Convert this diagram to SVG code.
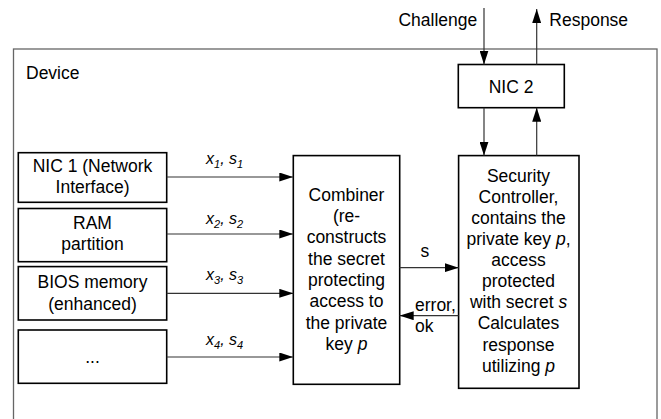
<svg xmlns="http://www.w3.org/2000/svg" width="661" height="419" viewBox="0 0 661 419">
  <defs>
    <marker id="arrow" markerUnits="userSpaceOnUse" markerWidth="14" markerHeight="9" refX="14" refY="4.5" orient="auto">
      <path d="M0,0 L14,4.5 L0,9 Z" fill="#000"/>
    </marker>
    <style>
      text { font-family: "Liberation Sans", Arial, sans-serif; font-size: 17.5px; fill: #000; }
      .c { text-anchor: middle; }
      .lbl { font-size: 16px; font-style: italic; }
      .sub { font-size: 11px; }
      .box { fill: #fff; stroke: #000; stroke-width: 1.6; }
      .frame { fill: none; stroke: #666; stroke-width: 1.3; }
      .conn line { stroke: #333; stroke-width: 1.2; marker-end: url(#arrow); }
    </style>
  </defs>

  <rect width="661" height="419" fill="#fff"/>

  <!-- device enclosure -->
  <g id="device">
    <rect class="frame" x="13.5" y="49" width="643.5" height="380"/>
    <text x="26" y="79.3">Device</text>
  </g>

  <!-- external labels -->
  <text x="477.3" y="26" text-anchor="end">Challenge</text>
  <text x="549.3" y="26">Response</text>

  <g id="nic2">
    <rect class="box" x="458.3" y="64.5" width="106" height="43.2"/>
    <text class="c" x="511" y="93.3">NIC 2</text>
  </g>

  <g id="nic1">
    <rect class="box" x="18.3" y="152.7" width="148.4" height="49.6"/>
    <text class="c" x="92.5" y="171.7">NIC 1 (Network</text>
    <text class="c" x="92.5" y="193.3">Interface)</text>
  </g>

  <g id="ram">
    <rect class="box" x="18.3" y="208.5" width="148.4" height="53.2"/>
    <text class="c" x="92.5" y="228.5">RAM</text>
    <text class="c" x="92.5" y="250">partition</text>
  </g>

  <g id="bios">
    <rect class="box" x="18.3" y="266.6" width="148.4" height="53.4"/>
    <text class="c" x="92.5" y="288">BIOS memory</text>
    <text class="c" x="92.5" y="309.5">(enhanced)</text>
  </g>

  <g id="more">
    <rect class="box" x="18.3" y="330" width="148.4" height="53.3"/>
    <text class="c" x="92.5" y="362.7">...</text>
  </g>

  <g id="combiner">
    <rect class="box" x="293.3" y="155.6" width="106.4" height="228.7"/>
    <text class="c" x="346.5" y="200.7">Combiner</text>
    <text class="c" x="346.5" y="222">(re-</text>
    <text class="c" x="346.5" y="243.3">constructs</text>
    <text class="c" x="346.5" y="264.6">the secret</text>
    <text class="c" x="346.5" y="286">protecting</text>
    <text class="c" x="346.5" y="307.3">access to</text>
    <text class="c" x="346.5" y="328.6">the private</text>
    <text class="c" x="346.5" y="350">key <tspan font-style="italic">p</tspan></text>
  </g>

  <g id="security-controller">
    <rect class="box" x="458.6" y="155.6" width="120.4" height="232.7"/>
    <text class="c" x="518.5" y="181.7">Security</text>
    <text class="c" x="518.5" y="202.8">Controller,</text>
    <text class="c" x="518.5" y="223.9">contains the</text>
    <text class="c" x="518.5" y="245">private key <tspan font-style="italic">p</tspan>,</text>
    <text class="c" x="518.5" y="266.1">access</text>
    <text class="c" x="518.5" y="287.2">protected</text>
    <text class="c" x="518.5" y="308.3">with secret <tspan font-style="italic">s</tspan></text>
    <text class="c" x="518.5" y="329.4">Calculates</text>
    <text class="c" x="518.5" y="350.5">response</text>
    <text class="c" x="518.5" y="371.6">utilizing <tspan font-style="italic">p</tspan></text>
  </g>

  <!-- connectors -->
  <g id="connectors" class="conn">
    <line x1="484" y1="8" x2="484" y2="64.5"/>
    <line x1="536.7" y1="64.5" x2="536.7" y2="9"/>
    <line x1="484" y1="107.7" x2="484" y2="155.6"/>
    <line x1="536.7" y1="155.6" x2="536.7" y2="107.7"/>
    <line x1="166.7" y1="177" x2="293.3" y2="177"/>
    <line x1="166.7" y1="234" x2="293.3" y2="234"/>
    <line x1="166.7" y1="293.3" x2="293.3" y2="293.3"/>
    <line x1="166.7" y1="357" x2="293.3" y2="357"/>
    <line x1="399.7" y1="267.7" x2="458.6" y2="267.7"/>
    <line x1="458.6" y1="315.7" x2="399.7" y2="315.7"/>
  </g>

  <!-- connector labels -->
  <g id="connector-labels">
    <text class="lbl" x="206" y="164">x<tspan class="sub" dy="4">1</tspan><tspan dy="-4">, s</tspan><tspan class="sub" dy="4">1</tspan></text>
    <text class="lbl" x="206" y="223.5">x<tspan class="sub" dy="4">2</tspan><tspan dy="-4">, s</tspan><tspan class="sub" dy="4">2</tspan></text>
    <text class="lbl" x="206" y="279.5">x<tspan class="sub" dy="4">3</tspan><tspan dy="-4">, s</tspan><tspan class="sub" dy="4">3</tspan></text>
    <text class="lbl" x="206" y="345">x<tspan class="sub" dy="4">4</tspan><tspan dy="-4">, s</tspan><tspan class="sub" dy="4">4</tspan></text>
    <text x="420.5" y="256.7">s</text>
    <text x="415" y="310.5">error,</text>
    <text x="415" y="331.7">ok</text>
  </g>
</svg>
